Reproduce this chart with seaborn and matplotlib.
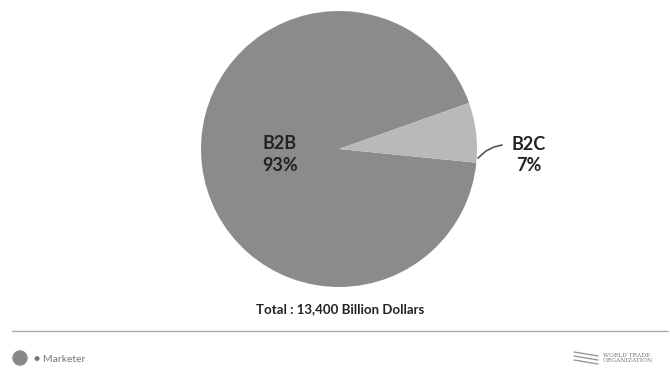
import matplotlib
matplotlib.use("Agg")
import matplotlib.pyplot as plt
from matplotlib.patches import Ellipse
import seaborn as sns
import numpy as np

sns.set_theme(style="white")
plt.rcParams['font.family'] = ['Lato', 'DejaVu Sans']

categories = ["B2B", "B2C"]
shares = [93, 7]
colors = ["#8b8b8b", "#b9b9b9"]
total_label = "Total : 13,400 Billion Dollars"

fig = plt.figure(figsize=(6.7, 3.71), dpi=100)
fig.patch.set_facecolor("white")

# pie axes: center (339,149) px, radius ~138 px
W, H = 670, 371
cx, cy, r = 339, 149, 138
ax = fig.add_axes([(cx - r) / W, 1 - (cy + r) / H, 2 * r / W, 2 * r / H])
wedges, _ = ax.pie(shares, colors=colors, startangle=19.5, counterclock=True,
                   wedgeprops=dict(linewidth=0))
ax.set_aspect("equal")
ax.set_xlim(-1, 1)
ax.set_ylim(-1, 1)
ax.axis("off")

# labels
ax.text(-0.43, -0.04, f"{categories[0]}\n{shares[0]}%", ha="center", va="center",
        fontsize=13, fontweight="bold", color="#222222", linespacing=1.35)
fig.text(529 / W, 1 - 155 / H, f"{categories[1]}\n{shares[1]}%", ha="center", va="center",
         fontsize=13, fontweight="bold", color="#222222", linespacing=1.35)

# leader line for B2C
lx = np.array([478, 486, 494, 502])
ly = np.array([158, 151, 147, 145])
fig.add_artist(plt.Line2D(lx / W, 1 - ly / H, color="#555555", lw=1.2))

# total text
fig.text(340 / W, 1 - 309 / H, total_label, ha="center", va="center",
         fontsize=9.5, fontweight="bold", color="#222222")

# separator line
fig.add_artist(plt.Line2D([12 / W, 668 / W], [1 - 331 / H, 1 - 331 / H], color="#aaaaaa", lw=1))

# footer: eMarketer
fig.add_artist(Ellipse((20 / W, 1 - 358 / H), 14 / W, 14 / H, transform=fig.transFigure,
                       color="#888888"))
fig.text(34 / W, 1 - 359 / H, "\u25cf Marketer", ha="left", va="center", fontsize=7.5, color="#777777")

# footer: WTO
for i in range(3):
    fig.add_artist(plt.Line2D([574 / W, 598 / W], [1 - (352 + 4 * i) / H, 1 - (356 + 4 * i) / H],
                              color="#999999", lw=1))
fig.text(603 / W, 1 - 358 / H, "WORLD TRADE\nORGANIZATION", ha="left", va="center",
         fontsize=4.2, color="#777777", family=["DejaVu Serif"], linespacing=1.1)

fig.savefig("out.png", dpi=100, facecolor="white")
